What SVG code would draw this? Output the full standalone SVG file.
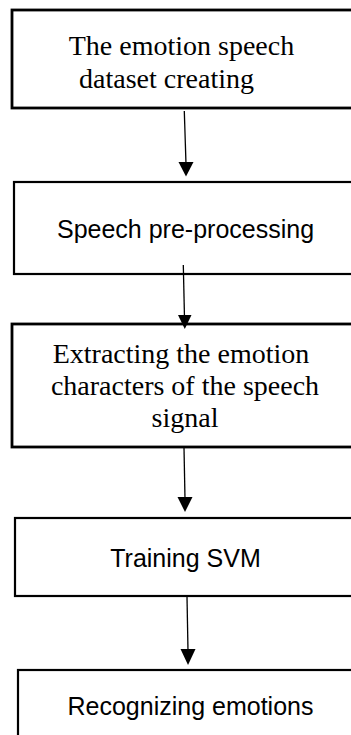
<svg xmlns="http://www.w3.org/2000/svg" width="351" height="735" viewBox="0 0 351 735">
<style>
.box{fill:#fff;stroke:#000;stroke-width:2.2}
.serif{font-family:"Liberation Serif","Times New Roman",serif;font-size:28px;fill:#000;text-anchor:middle}
.sans{font-family:"Liberation Sans",Arial,sans-serif;font-size:25px;fill:#000;text-anchor:middle}
.conn{stroke:#000;stroke-width:1.3;fill:none}
.head{fill:#000}
</style>
<rect width="351" height="735" fill="#fff"/>
<g id="n1">
<rect class="box" x="12" y="10" width="345" height="98" style="stroke-width:2.8"/>
<text class="serif" x="181.5" y="55">The emotion speech</text>
<text class="serif" x="166.5" y="87.5">dataset creating</text>
</g>
<g id="n2">
<rect class="box" x="14" y="182" width="345" height="92"/>
<text class="sans" x="185.5" y="238">Speech pre-processing</text>
</g>
<g id="n3">
<rect class="box" x="12" y="324" width="345" height="123" style="stroke-width:2.8"/>
<text class="serif" x="181" y="363">Extracting the emotion</text>
<text class="serif" x="185" y="395">characters of the speech</text>
<text class="serif" x="185" y="427">signal</text>
</g>
<g id="n4">
<rect class="box" x="15" y="518" width="345" height="78"/>
<text class="sans" x="185.5" y="567">Training SVM</text>
</g>
<g id="n5">
<rect class="box" x="18" y="670" width="345" height="80"/>
<text class="sans" x="190.5" y="715">Recognizing emotions</text>
</g>
<g id="connectors">
<line class="conn" x1="184.3" y1="111" x2="186" y2="164"/>
<polygon class="head" points="178.5,162 193.5,162 186,176.5"/>
<line class="conn" x1="183.3" y1="265" x2="184.5" y2="318"/>
<polygon class="head" points="178,315 191.5,315 184.8,329"/>
<line class="conn" x1="184" y1="448" x2="185" y2="499"/>
<polygon class="head" points="177.5,497 192.5,497 185,512"/>
<line class="conn" x1="187" y1="597" x2="188" y2="651"/>
<polygon class="head" points="180.5,649 195.5,649 188,665"/>
</g>
</svg>
